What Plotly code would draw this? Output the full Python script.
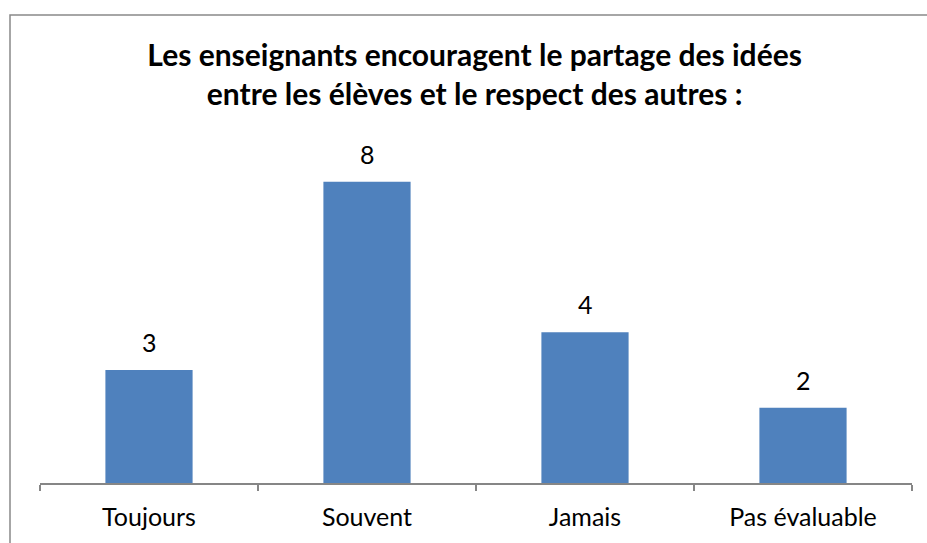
import plotly.graph_objects as go

categories = ["Toujours", "Souvent", "Jamais", "Pas évaluable"]
values = [3, 8, 4, 2]
title_lines = ["Les enseignants encouragent le partage des idées",
               "entre les élèves et le respect des autres :"]

W, H = 927, 543
ml, mr, mt, mb = 40, 15, 144, 60
pw = W - ml - mr
ph = H - mt - mb

def px_x(p):
    return (p - ml) / pw

def px_y(p):
    return (H - mb - p) / ph

fig = go.Figure(go.Bar(
    x=categories, y=values, width=0.4,
    marker=dict(color="#4F81BD", line=dict(width=0)),
    hoverinfo="x+y",
))

for c, v in zip(categories, values):
    fig.add_annotation(x=c, y=v, text=str(v), showarrow=False,
                       yanchor="bottom", yshift=11,
                       font=dict(family="Lato", size=25, color="#000000"))

fig.update_layout(
    width=W, height=H,
    margin=dict(l=ml, r=mr, t=mt, b=mb),
    paper_bgcolor="white", plot_bgcolor="white",
    font=dict(family="Lato", size=25, color="#000000"),
    title=dict(text="<br>".join(title_lines), x=0.512, xanchor="center",
               y=1 - 66 / H, yanchor="middle",
               font=dict(family="Lato", size=30, color="#000000", weight="bold")),
    showlegend=False,
    bargap=0.6,
    xaxis=dict(showline=True, linecolor="#868686", linewidth=1.5,
               ticks="outside", ticklen=6, tickcolor="#868686", tickwidth=1.5,
               tickson="boundaries", showgrid=False, ticklabelstandoff=11,
               tickfont=dict(family="Lato", size=25)),
    yaxis=dict(visible=False, range=[0, 9], showgrid=False, zeroline=False),
    shapes=[dict(type="rect", xref="paper", yref="paper",
                 x0=px_x(10), x1=px_x(960), y0=px_y(560), y1=px_y(15),
                 line=dict(color="#898989", width=1.5), fillcolor="rgba(0,0,0,0)",
                 layer="below")],
)

fig.write_html("out.html", config={"displayModeBar": False})

with open("out.html", encoding="utf-8") as f:
    html = f.read()
html = html.replace("<head>", "<head><style>html,body{margin:0;padding:0;overflow:hidden;}</style>", 1)
with open("out.html", "w", encoding="utf-8") as f:
    f.write(html)
